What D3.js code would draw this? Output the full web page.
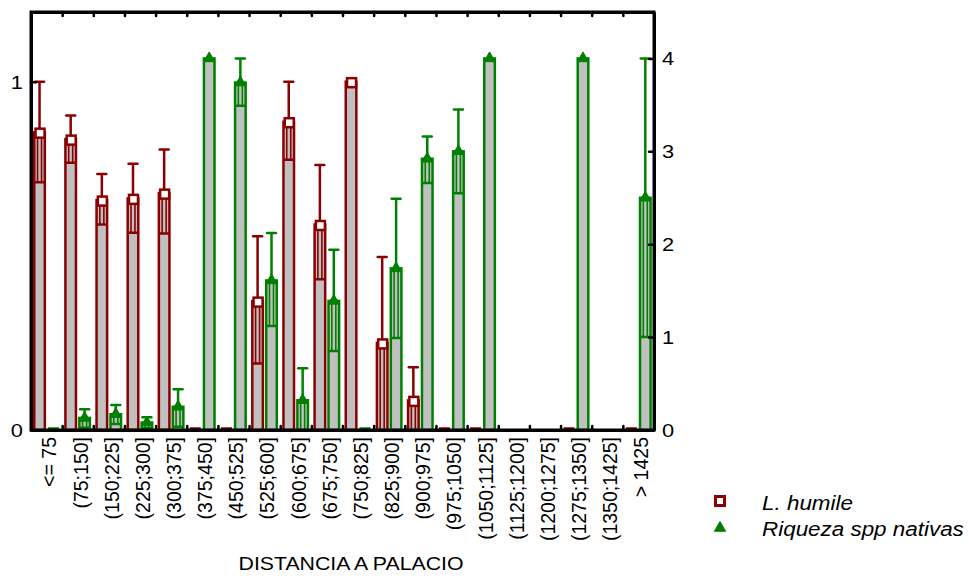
<!DOCTYPE html>
<html>
<head>
<meta charset="utf-8">
<script src="https://cdn.jsdelivr.net/npm/d3@7"></script>
<style>
  html, body { margin: 0; padding: 0; background: #fff; }
  svg { display: block; font-family: "Liberation Sans", Arial, sans-serif; }
</style>
</head>
<body>
<svg id="chart" width="969" height="579"></svg>
<script>
// ---- data ----
const categories = ["<= 75","(75;150]","(150;225]","(225;300]","(300;375]","(375;450]","(450;525]",
  "(525;600]","(600;675]","(675;750]","(750;825]","(825;900]","(900;975]","(975;1050]",
  "(1050;1125]","(1125;1200]","(1200;1275]","(1275;1350]","(1350;1425]","> 1425"];

const humileMean = [0.855,0.835,0.66,0.665,0.68,0,0,0.37,0.885,0.59,1.0,0.25,0.085,0,0,null,null,0,null,0];
const humileLow  = [0.711,0.767,0.59,0.566,0.564,0,0,0.191,0.776,0.433,1.0,0,0,0,0,null,null,0,null,0];
const humileHigh = [1.0,0.903,0.735,0.764,0.805,0,0,0.556,1.0,0.761,1.0,0.497,0.18,0,0,null,null,0,null,0];

const riquezaMean = [0,0.13,0.17,0.08,0.25,4.0,3.74,1.61,0.32,1.39,0,1.74,2.92,3.0,4.0,null,null,4.0,null,2.5];
const riquezaLow  = [0,0.025,0.065,0.02,0.036,4.0,3.49,1.12,0,0.85,0,0.99,2.66,2.55,4.0,null,null,4.0,null,1.0];
const riquezaHigh = [0,0.223,0.27,0.137,0.439,4.0,4.0,2.12,0.665,1.94,0,2.49,3.16,3.45,4.0,null,null,4.0,null,4.0];

const leftTicks = [0, 1];
const rightTicks = [0, 1, 2, 3, 4];
const seriesNames = ["L. humile", "Riqueza spp nativas"];
const xTitle = "DISTANCIA A PALACIO";

// ---- layout ----
const X0 = 31, X1 = 654, Y0 = 12, Y1 = 430;
const RED = "#8b0000", GREEN = "#008000", GRAY = "#c0c0c0";
const STRETCH = 1.15;

const svg = d3.select("#chart");

const x = d3.scaleBand().domain(categories).range([X0, X1]).padding(0);
const xs = d3.scaleBand().domain([0, 1]).range([2, 29]).paddingInner(0.06);
const yL = d3.scaleLinear().domain([0, 1.2]).range([Y1, Y0]);
const yR = d3.scaleLinear().domain([0, 4.5]).range([Y1, Y0]);

const series = [
  { mean: humileMean, low: humileLow, high: humileHigh, y: yL, color: RED, marker: "square" },
  { mean: riquezaMean, low: riquezaLow, high: riquezaHigh, y: yR, color: GREEN, marker: "triangle" }
];

const gBars = svg.append("g");
const triPath = d3.symbol().type(d3.symbolTriangle).size(55)();

categories.forEach((cat, i) => {
  series.forEach((s, si) => {
    const m = s.mean[i];
    if (m === null || m === undefined) return;
    const bx = x(cat) + xs(si);
    const bw = xs.bandwidth();
    const cx = bx + bw / 2;
    const top = s.y(m);
    if (m > 0) {
      gBars.append("rect")
        .attr("x", bx + 1.25).attr("y", top)
        .attr("width", bw - 2.5).attr("height", Y1 - top)
        .attr("fill", GRAY).attr("stroke", s.color).attr("stroke-width", 2.5);
    } else {
      gBars.append("line")
        .attr("x1", bx + 1).attr("x2", bx + bw - 1)
        .attr("y1", Y1 - 1.5).attr("y2", Y1 - 1.5)
        .attr("stroke", s.color).attr("stroke-width", 2.5);
      return;
    }
    const lo = s.low[i], hi = s.high[i];
    if (hi > lo) {
      const yHi = s.y(hi), yLo = s.y(lo);
      // upper whisker
      gBars.append("line").attr("x1", cx).attr("x2", cx).attr("y1", yHi).attr("y2", top)
        .attr("stroke", s.color).attr("stroke-width", 2.5);
      gBars.append("line").attr("x1", cx - 4.5).attr("x2", cx + 4.5).attr("y1", yHi).attr("y2", yHi)
        .attr("stroke", s.color).attr("stroke-width", 2.5).attr("stroke-linecap", "round");
      // lower whisker inside bar (double line)
      [-2, 2].forEach(d => {
        gBars.append("line").attr("x1", cx + d).attr("x2", cx + d).attr("y1", top).attr("y2", yLo)
          .attr("stroke", s.color).attr("stroke-width", 1.6);
      });
      if (lo > 0) {
        gBars.append("line").attr("x1", cx - 4.5).attr("x2", cx + 4.5).attr("y1", yLo).attr("y2", yLo)
          .attr("stroke", s.color).attr("stroke-width", 2.5).attr("stroke-linecap", "round");
      }
    }
    if (s.marker === "square") {
      gBars.append("rect").attr("x", cx - 4).attr("y", top - 3.5).attr("width", 9).attr("height", 9)
        .attr("fill", "#fff").attr("stroke", s.color).attr("stroke-width", 2.5);
    } else {
      gBars.append("path").attr("d", triPath).attr("transform", `translate(${cx},${top})`)
        .attr("fill", s.color).attr("stroke", s.color).attr("stroke-width", 1);
    }
  });
});

// ---- axes ----
const xi = d3.scaleLinear().domain([0, categories.length]).range([X0, X1]);
const styleAxis = g => {
  g.select(".domain").attr("stroke", "#000").attr("stroke-width", 3);
  g.selectAll(".tick line").attr("stroke", "#000").attr("stroke-width", 2.5).attr("stroke-linecap", "round");
};
svg.append("g").attr("transform", `translate(0,${Y1})`)
  .call(d3.axisBottom(xi).tickValues(d3.range(1, categories.length)).tickSize(-4).tickSizeOuter(0).tickFormat(""))
  .call(styleAxis);
svg.append("g").attr("transform", `translate(0,${Y0})`)
  .call(d3.axisTop(xi).tickValues(d3.range(1, categories.length)).tickSize(-4).tickSizeOuter(0).tickFormat(""))
  .call(styleAxis);
svg.append("g").attr("transform", `translate(${X0},0)`)
  .call(d3.axisLeft(yL).tickValues(leftTicks).tickSize(-5).tickSizeOuter(0).tickFormat(""))
  .call(styleAxis);
svg.append("g").attr("transform", `translate(${X1},0)`)
  .call(d3.axisRight(yR).tickValues(rightTicks).tickSize(-5).tickSizeOuter(0).tickFormat(""))
  .call(styleAxis);

// corner joins
svg.append("rect").attr("x", X0).attr("y", Y0).attr("width", X1 - X0).attr("height", Y1 - Y0)
  .attr("fill", "none").attr("stroke", "#000").attr("stroke-width", 3);

// tick labels
const hText = (px, py, txt, anchor, size, style) => {
  const t = svg.append("text")
    .attr("transform", `translate(${px},${py}) scale(${STRETCH},1)`)
    .attr("text-anchor", anchor).attr("font-size", size).attr("fill", "#000")
    .text(txt);
  if (style) t.attr("font-style", style);
  return t;
};
leftTicks.forEach(v => hText(23, yL(v) + 7, String(v), "end", 19));
rightTicks.forEach(v => hText(662, yR(v) + 7, String(v), "start", 19));

// category labels (rotated)
categories.forEach(cat => {
  svg.append("text")
    .attr("transform", `translate(${x(cat) + x.bandwidth() / 2 + 3},437) rotate(-90)`)
    .attr("text-anchor", "end").attr("dy", "0.35em")
    .attr("font-size", 19.5).attr("fill", "#000")
    .text(cat);
});

// x title
hText(351, 570, xTitle, "middle", 18.5);

// legend
svg.append("rect").attr("x", 715.5).attr("y", 496.5).attr("width", 9).attr("height", 9)
  .attr("fill", "#fff").attr("stroke", RED).attr("stroke-width", 3);
svg.append("path").attr("d", triPath).attr("transform", "translate(720,528)")
  .attr("fill", GREEN).attr("stroke", GREEN).attr("stroke-width", 1);
hText(762, 510, seriesNames[0], "start", 19.5, "italic");
hText(762, 536, seriesNames[1], "start", 19.5, "italic");
</script>
</body>
</html>
